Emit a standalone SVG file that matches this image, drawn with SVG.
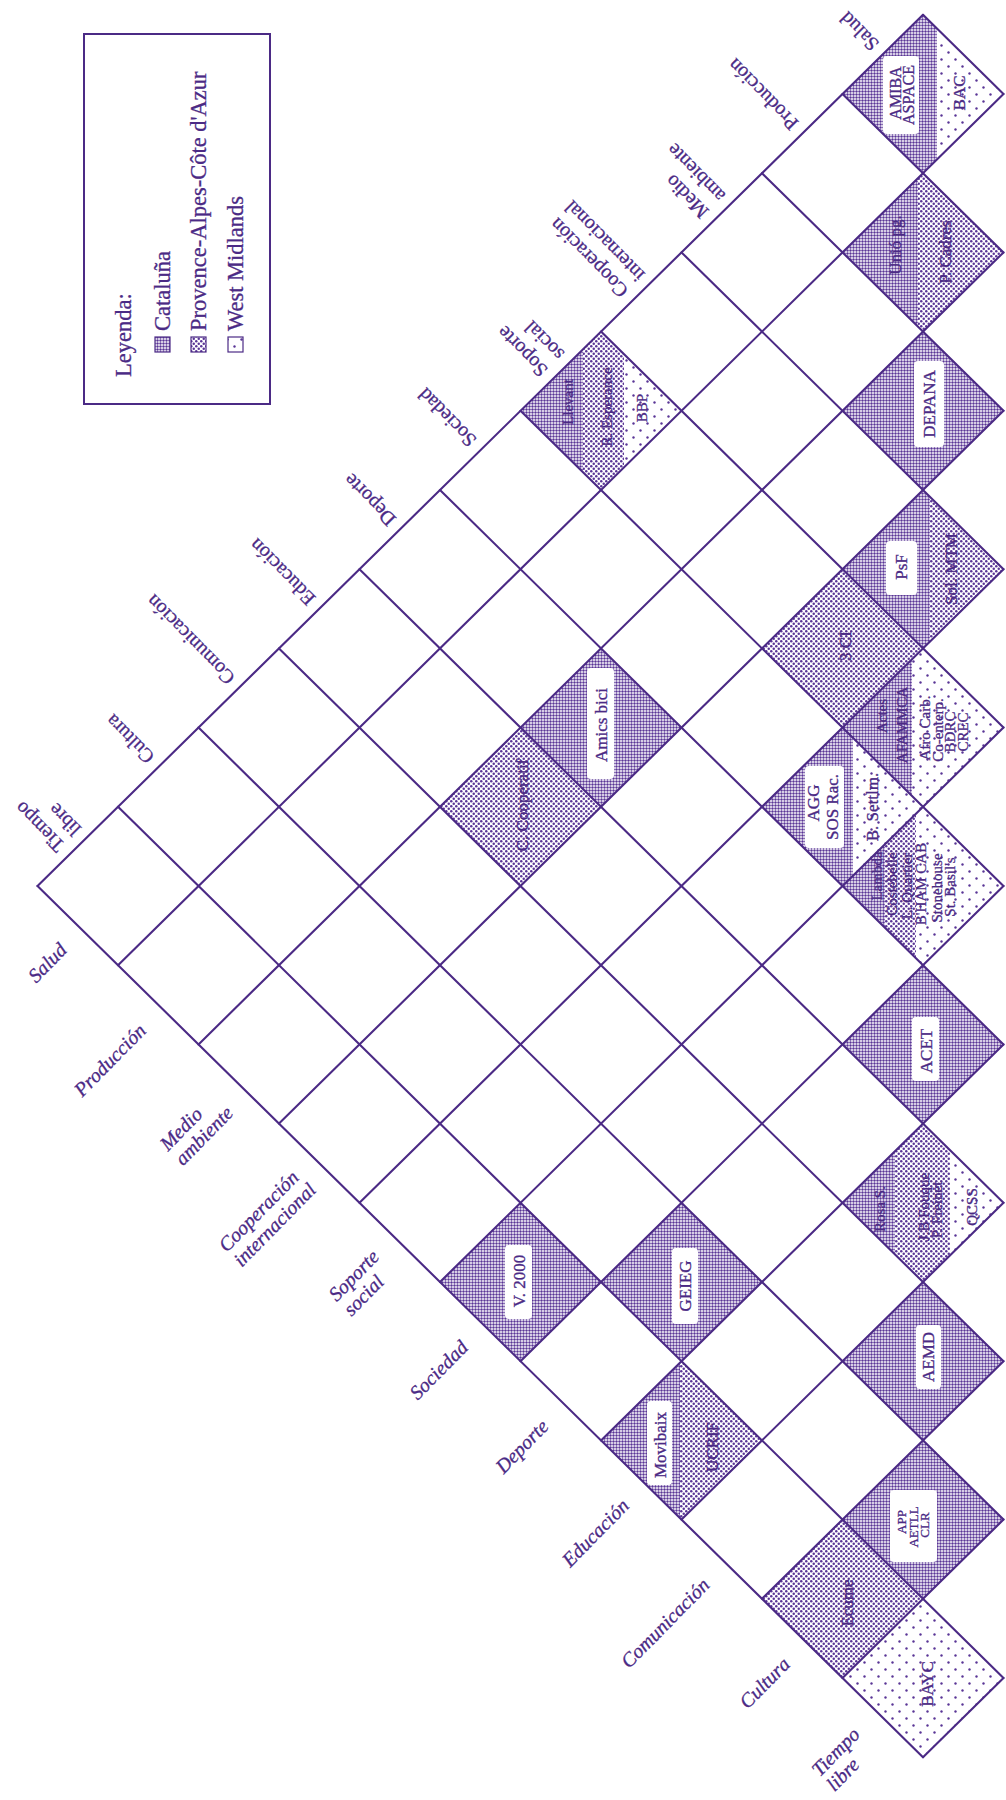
<svg xmlns="http://www.w3.org/2000/svg" width="1006" height="1800" viewBox="0 0 1006 1800">
<defs>
<style>
.ln{stroke:#4b2a85;stroke-width:2.1;fill:none;stroke-linecap:round}
.lab{font-family:"Liberation Serif","Times New Roman",serif;font-size:20px;fill:#4b2a85;stroke:#4b2a85;stroke-width:0.3}
.it{font-style:italic}
.ct{font-family:"Liberation Serif","Times New Roman",serif;font-size:17px;fill:#4b2a85;stroke:#4b2a85;stroke-width:0.35;text-anchor:middle}
.cs{font-family:"Liberation Serif","Times New Roman",serif;font-size:15px;fill:#4b2a85;stroke:#4b2a85;stroke-width:0.3;text-anchor:middle}
.box{fill:#fff}
.lg{font-family:"Liberation Serif","Times New Roman",serif;font-size:22.5px;fill:#4b2a85;stroke:#4b2a85;stroke-width:0.3}
.dk{fill:url(#pDark)}
.md{fill:url(#pMed)}
.sp{fill:url(#pSparse)}
</style>
<pattern id="pDark" width="3" height="3" patternUnits="userSpaceOnUse"><circle cx="1.5" cy="1.5" r="1.2" fill="#5a3596"/></pattern>
<pattern id="pMed" width="5" height="5" patternUnits="userSpaceOnUse"><circle cx="1.25" cy="1.25" r="1.25" fill="#5a3596"/><circle cx="3.75" cy="3.75" r="1.25" fill="#5a3596"/></pattern>
<pattern id="pSparse" width="14" height="14" patternUnits="userSpaceOnUse"><circle cx="3.5" cy="3.5" r="1.2" fill="#5a3596"/><circle cx="10.5" cy="10.5" r="1.2" fill="#5a3596"/></pattern>
<clipPath id="cA"><path d="M842.5,94 L923,14.8 L1003.5,94 L923,173.2Z"/></clipPath>
<clipPath id="cB"><path d="M842.5,252.4 L923,173.2 L1003.5,252.4 L923,331.6Z"/></clipPath>
<clipPath id="cD"><path d="M842.5,569.2 L923,490 L1003.5,569.2 L923,648.4Z"/></clipPath>
<clipPath id="cE"><path d="M842.5,727.6 L923,648.4 L1003.5,727.6 L923,806.8Z"/></clipPath>
<clipPath id="cF"><path d="M842.5,886 L923,806.8 L1003.5,886 L923,965.2Z"/></clipPath>
<clipPath id="cH"><path d="M842.5,1202.8 L923,1123.6 L1003.5,1202.8 L923,1282Z"/></clipPath>
<clipPath id="cM"><path d="M762,806.8 L842.5,727.6 L923,806.8 L842.5,886Z"/></clipPath>
<clipPath id="cO"><path d="M601,1440.4 L681.5,1361.2 L762,1440.4 L681.5,1519.6Z"/></clipPath>
<clipPath id="cT"><path d="M520.5,410.8 L601,331.6 L681.5,410.8 L601,490Z"/></clipPath>
</defs>
<rect width="1006" height="1800" fill="#fff"/>

<g id="legend">
<rect x="84" y="34" width="186" height="370" fill="none" stroke="#4b2a85" stroke-width="2"/>
<text class="lg" transform="translate(131,377) rotate(-90)">Leyenda:</text>
<rect x="155" y="337" width="15" height="15" class="dk" stroke="#4b2a85" stroke-width="1.2"/>
<text class="lg" transform="translate(170,331) rotate(-90)">Cataluña</text>
<rect x="191" y="337" width="15" height="15" class="md" stroke="#4b2a85" stroke-width="1.2"/>
<text class="lg" transform="translate(206,331) rotate(-90)">Provence-Alpes-Côte d'Azur</text>
<rect x="228" y="337" width="15" height="15" class="sp" stroke="#4b2a85" stroke-width="1.2"/>
<text class="lg" transform="translate(243,331) rotate(-90)">West Midlands</text>
</g>

<g id="cells">
<g id="cell-amiba">
<g clip-path="url(#cA)"><rect x="840" y="10" width="97" height="170" class="dk"/><rect x="937" y="10" width="70" height="170" class="sp"/></g>
<rect x="883" y="56" width="36" height="78" rx="4" class="box"/>
<text class="ct" transform="translate(901,93) rotate(-90)" style="font-size:16px">AMIBA</text>
<text class="ct" transform="translate(914,95) rotate(-90)" style="font-size:16px">ASPACE</text>
<text class="ct" transform="translate(965,93) rotate(-90)">BAC</text>
</g>
<g id="cell-unio">
<g clip-path="url(#cB)"><rect x="840" y="170" width="78" height="165" class="dk"/><rect x="918" y="170" width="90" height="165" class="md"/></g>
<text class="ct" transform="translate(901,245) rotate(-90)">Unió pg.</text>
<text class="ct" transform="translate(951,252) rotate(-90)">P. Cadres</text>
</g>
<g id="cell-depana">
<path d="M842.5,410.8 L923,331.6 L1003.5,410.8 L923,490Z" class="dk"/>
<rect x="914" y="361" width="30" height="86" rx="4" class="box"/>
<text class="ct" transform="translate(935,404) rotate(-90)">DEPANA</text>
</g>
<g id="cell-psf">
<g clip-path="url(#cD)"><rect x="840" y="488" width="90" height="165" class="dk"/><rect x="930" y="488" width="78" height="165" class="md"/></g>
<rect x="886" y="541" width="31" height="54" rx="4" class="box"/>
<text class="ct" transform="translate(907,567) rotate(-90)">PsF</text>
<text class="ct" transform="translate(957,569) rotate(-90)">Sol. MTM</text>
</g>
<g id="cell-actes">
<g clip-path="url(#cE)"><rect x="840" y="645" width="72" height="165" class="dk"/><rect x="912" y="645" width="95" height="165" class="sp"/></g>
<text class="cs" transform="translate(887,716) rotate(-90)">Actes</text>
<text class="cs" transform="translate(907,725) rotate(-90)">AFAMMCA</text>
<text class="cs" transform="translate(930,728) rotate(-90)">Afro Carb.</text>
<text class="cs" transform="translate(942.5,730) rotate(-90)">Co-enterp.</text>
<text class="cs" transform="translate(955,732) rotate(-90)">BDRC</text>
<text class="cs" transform="translate(967.5,732) rotate(-90)">CREC</text>
</g>
<g id="cell-lambda">
<g clip-path="url(#cF)"><rect x="840" y="805" width="45" height="165" class="dk"/><rect x="885" y="805" width="31" height="165" class="md"/><rect x="916" y="805" width="92" height="165" class="sp"/></g>
<text class="cs" transform="translate(882,876) rotate(-90)">Lambda</text>
<text class="cs" transform="translate(897,884) rotate(-90)">Costebelle</text>
<text class="cs" transform="translate(912,886) rotate(-90)">L. Quartier</text>
<text class="cs" transform="translate(925.5,884) rotate(-90)">B'HAM CAB</text>
<text class="cs" transform="translate(942,888) rotate(-90)">Stonehouse</text>
<text class="cs" transform="translate(955,887) rotate(-90)">St. Basil's</text>
</g>
<g id="cell-acet">
<path d="M842.5,1044.4 L923,965.2 L1003.5,1044.4 L923,1123.6Z" class="dk"/>
<rect x="912" y="1017" width="27" height="64" rx="4" class="box"/>
<text class="ct" transform="translate(932,1051) rotate(-90)">ACET</text>
</g>
<g id="cell-rosa">
<g clip-path="url(#cH)"><rect x="840" y="1120" width="55" height="165" class="dk"/><rect x="895" y="1120" width="55" height="165" class="md"/><rect x="950" y="1120" width="58" height="165" class="sp"/></g>
<text class="cs" transform="translate(885,1209) rotate(-90)">Rosa S.</text>
<text class="cs" transform="translate(929,1207) rotate(-90)">J.B Fouque</text>
<text class="cs" transform="translate(942,1210) rotate(-90)">P. Freinet</text>
<text class="cs" transform="translate(977,1207) rotate(-90)">QCSS</text>
</g>
<g id="cell-aemd">
<path d="M842.5,1361.2 L923,1282 L1003.5,1361.2 L923,1440.4Z" class="dk"/>
<rect x="916" y="1325" width="25" height="64" rx="4" class="box"/>
<text class="ct" transform="translate(934,1357) rotate(-90)">AEMD</text>
</g>
<g id="cell-app">
<path d="M842.5,1519.6 L923,1440.4 L1003.5,1519.6 L923,1598.8Z" class="dk"/>
<rect x="890" y="1490" width="47" height="72" rx="4" class="box"/>
<text class="cs" transform="translate(906,1522) rotate(-90)" style="font-size:13px">APP</text>
<text class="cs" transform="translate(917.5,1527) rotate(-90)" style="font-size:13px">AETLL</text>
<text class="cs" transform="translate(929,1525) rotate(-90)" style="font-size:13px">CLR</text>
</g>
<g id="cell-bayc">
<path d="M842.5,1678 L923,1598.8 L1003.5,1678 L923,1757.2Z" class="sp"/>
<text class="ct" transform="translate(933,1684) rotate(-90)">BAYC</text>
</g>
<g id="cell-3ci">
<path d="M762,648.4 L842.5,569.2 L923,648.4 L842.5,727.6Z" class="md"/>
<text class="ct" transform="translate(851,646) rotate(-90)">3 CI</text>
</g>
<g id="cell-agg">
<g clip-path="url(#cM)"><rect x="760" y="725" width="93" height="165" class="dk"/><rect x="853" y="725" width="72" height="165" class="sp"/></g>
<rect x="805" y="766" width="39" height="82" rx="4" class="box"/>
<text class="ct" transform="translate(819,803) rotate(-90)">AGG</text>
<text class="ct" transform="translate(838,807) rotate(-90)">SOS Rac.</text>
<text class="ct" transform="translate(878,807) rotate(-90)">B. Settlm.</text>
</g>
<g id="cell-ecume">
<path d="M762,1598.8 L842.5,1519.6 L923,1598.8 L842.5,1678Z" class="md"/>
<text class="ct" transform="translate(853,1603) rotate(-90)">Ecume</text>
</g>
<g id="cell-movibaix">
<g clip-path="url(#cO)"><rect x="598" y="1358" width="82" height="165" class="dk"/><rect x="680" y="1358" width="85" height="165" class="md"/></g>
<rect x="647" y="1401" width="25" height="84" rx="4" class="box"/>
<text class="ct" transform="translate(666,1445) rotate(-90)">Movibaix</text>
<text class="ct" transform="translate(718,1447) rotate(-90)">UCRIF</text>
</g>
<g id="cell-geieg">
<path d="M601,1282 L681.5,1202.8 L762,1282 L681.5,1361.2Z" class="dk"/>
<rect x="672" y="1248" width="26" height="76" rx="4" class="box"/>
<text class="ct" transform="translate(691,1286) rotate(-90)">GEIEG</text>
</g>
<g id="cell-v2000">
<path d="M440,1282 L520.5,1202.8 L601,1282 L520.5,1361.2Z" class="dk"/>
<rect x="505" y="1245" width="27" height="74" rx="4" class="box"/>
<text class="ct" transform="translate(524.5,1281) rotate(-90)">V. 2000</text>
</g>
<g id="cell-cooperatif">
<path d="M440,806.8 L520.5,727.6 L601,806.8 L520.5,886Z" class="md"/>
<text class="ct" transform="translate(528,805) rotate(-90)">C. Cooperatif</text>
</g>
<g id="cell-amics">
<path d="M520.5,727.6 L601,648.4 L681.5,727.6 L601,806.8Z" class="dk"/>
<rect x="587" y="668" width="27" height="111" rx="4" class="box"/>
<text class="ct" transform="translate(606.5,725) rotate(-90)">Amics bici</text>
</g>
<g id="cell-llevant">
<g clip-path="url(#cT)"><rect x="518" y="328" width="65" height="165" class="dk"/><rect x="583" y="328" width="41" height="165" class="md"/><rect x="624" y="328" width="60" height="165" class="sp"/></g>
<text class="cs" transform="translate(573,402) rotate(-90)">Llevant</text>
<text class="cs" transform="translate(612,407) rotate(-90)">R. Esperance</text>
<text class="cs" transform="translate(647,408) rotate(-90)">BBP</text>
</g>
</g>

<g id="grid-lines" class="ln">
<path d="M37.5,886 L923,14.8"/>
<path d="M118,965.2 L1003.5,94"/>
<path d="M198.5,1044.4 L1003.5,252.4"/>
<path d="M279,1123.6 L1003.5,410.8"/>
<path d="M359.5,1202.8 L1003.5,569.2"/>
<path d="M440,1282 L1003.5,727.6"/>
<path d="M520.5,1361.2 L1003.5,886"/>
<path d="M601,1440.4 L1003.5,1044.4"/>
<path d="M681.5,1519.6 L1003.5,1202.8"/>
<path d="M762,1598.8 L1003.5,1361.2"/>
<path d="M842.5,1678 L1003.5,1519.6"/>
<path d="M923,1757.2 L1003.5,1678"/>
<path d="M37.5,886 L923,1757.2"/>
<path d="M118,806.8 L1003.5,1678"/>
<path d="M198.5,727.6 L1003.5,1519.6"/>
<path d="M279,648.4 L1003.5,1361.2"/>
<path d="M359.5,569.2 L1003.5,1202.8"/>
<path d="M440,490 L1003.5,1044.4"/>
<path d="M520.5,410.8 L1003.5,886"/>
<path d="M601,331.6 L1003.5,727.6"/>
<path d="M681.5,252.4 L1003.5,569.2"/>
<path d="M762,173.2 L1003.5,410.8"/>
<path d="M842.5,94 L1003.5,252.4"/>
<path d="M923,14.8 L1003.5,94"/>
</g>

<g id="labels-top" class="lab">
<g id="lt-tiempo" transform="translate(77.75,846.4) rotate(-134.5)"><text x="10" y="-7">Tiempo</text><text x="10" y="16">libre</text></g>
<g id="lt-cultura" transform="translate(158.25,767.2) rotate(-134.5)"><text x="10" y="6">Cultura</text></g>
<g id="lt-comunicacion" transform="translate(238.75,688) rotate(-134.5)"><text x="10" y="6">Comunicación</text></g>
<g id="lt-educacion" transform="translate(319.25,608.8) rotate(-134.5)"><text x="10" y="6">Educación</text></g>
<g id="lt-deporte" transform="translate(399.75,529.6) rotate(-134.5)"><text x="10" y="6">Deporte</text></g>
<g id="lt-sociedad" transform="translate(480.25,450.4) rotate(-134.5)"><text x="10" y="6">Sociedad</text></g>
<g id="lt-soporte" transform="translate(560.75,371.2) rotate(-134.5)"><text x="10" y="-7">Soporte</text><text x="10" y="16">social</text></g>
<g id="lt-cooperacion" transform="translate(641.25,292) rotate(-134.5)"><text x="10" y="-7">Cooperación</text><text x="10" y="16">internacional</text></g>
<g id="lt-medio" transform="translate(721.75,212.8) rotate(-134.5)"><text x="10" y="-7">Medio</text><text x="10" y="16">ambiente</text></g>
<g id="lt-produccion" transform="translate(802.25,133.6) rotate(-134.5)"><text x="10" y="6">Producción</text></g>
<g id="lt-salud" transform="translate(882.75,54.4) rotate(-134.5)"><text x="10" y="6">Salud</text></g>
</g>

<g id="labels-bottom" class="lab it">
<g id="lb-salud" transform="translate(77.75,925.6) rotate(-45.5)"><text x="-25" y="11" text-anchor="end">Salud</text></g>
<g id="lb-produccion" transform="translate(158.25,1004.8) rotate(-45.5)"><text x="-27" y="11" text-anchor="end">Producción</text></g>
<g id="lb-medio" transform="translate(238.75,1084) rotate(-45.5)"><text x="-98" y="-3">Medio</text><text x="-98" y="18">ambiente</text></g>
<g id="lb-cooperacion" transform="translate(319.25,1163.2) rotate(-45.5)"><text x="-129" y="-3">Cooperación</text><text x="-129" y="18">internacional</text></g>
<g id="lb-soporte" transform="translate(399.75,1242.4) rotate(-45.5)"><text x="-87" y="-3">Soporte</text><text x="-87" y="18">social</text></g>
<g id="lb-sociedad" transform="translate(480.25,1321.6) rotate(-45.5)"><text x="-27" y="11" text-anchor="end">Sociedad</text></g>
<g id="lb-deporte" transform="translate(560.75,1400.8) rotate(-45.5)"><text x="-27" y="11" text-anchor="end">Deporte</text></g>
<g id="lb-educacion" transform="translate(641.25,1480) rotate(-45.5)"><text x="-27" y="11" text-anchor="end">Educación</text></g>
<g id="lb-comunicacion" transform="translate(721.75,1559.2) rotate(-45.5)"><text x="-27" y="11" text-anchor="end">Comunicación</text></g>
<g id="lb-cultura" transform="translate(802.25,1638.4) rotate(-45.5)"><text x="-27" y="11" text-anchor="end">Cultura</text></g>
<g id="lb-tiempo" transform="translate(882.75,1717.6) rotate(-45.5)"><text x="-87" y="-3">Tiempo</text><text x="-87" y="18">libre</text></g>
</g>
</svg>
